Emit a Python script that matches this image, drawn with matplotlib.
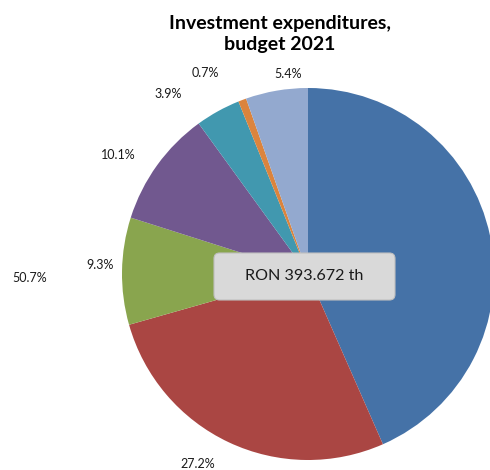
import matplotlib.pyplot as plt
from matplotlib.patches import FancyBboxPatch

shares = [43.4, 27.2, 9.3, 10.1, 3.9, 0.7, 5.4]
labels = ["50.7%", "27.2%", "9.3%", "10.1%", "3.9%", "0.7%", "5.4%"]
colors = ["#4572A7", "#AA4643", "#89A54E", "#71588F", "#4198AF", "#DB843D", "#93A9CF"]
# label centres in pixels of the 490x470 picture
label_px = [(30, 278), (198, 464), (100, 265), (118, 155), (168, 94), (205, 73), (288, 74)]

W, H = 490, 470
cx, cy, r = 308, 274, 186

plt.rcParams['font.family'] = ['Lato', 'DejaVu Sans']

fig = plt.figure(figsize=(W / 100, H / 100), dpi=100)
ax = fig.add_axes([0, 0, 1, 1])

ax.pie(shares, colors=colors, startangle=90, counterclock=False, radius=1,
       center=(0, 0), frame=True, wedgeprops=dict(linewidth=0))
ax.set_xlim(-cx / r, (W - cx) / r)
ax.set_ylim(-(H - cy) / r, cy / r)
ax.set_aspect('equal')
ax.axis('off')

def px(x, y):
    return (x - cx) / r, (cy - y) / r

for lab, (x, y) in zip(labels, label_px):
    ax.text(*px(x, y), lab, ha='center', va='center', fontsize=9, color='#1a1a1a')

# info box
x0, y0 = px(214, 300)
x1, y1 = px(395, 253)
box = FancyBboxPatch((x0, y0), x1 - x0, y1 - y0,
                     boxstyle="round,pad=0,rounding_size=0.03",
                     facecolor='#d9d9d9', edgecolor='#bfbfbf', linewidth=0.8)
ax.add_patch(box)
ax.text((x0 + x1) / 2, (y0 + y1) / 2, "RON 393.672 th", ha='center', va='center',
        fontsize=11.6, color='#1a1a1a')

fig.text(280 / W, 1 - 34 / H, "Investment expenditures,\nbudget 2021", ha='center', va='center',
         fontsize=14, fontweight='bold', linespacing=1.35)

fig.savefig("out.png", dpi=100)
